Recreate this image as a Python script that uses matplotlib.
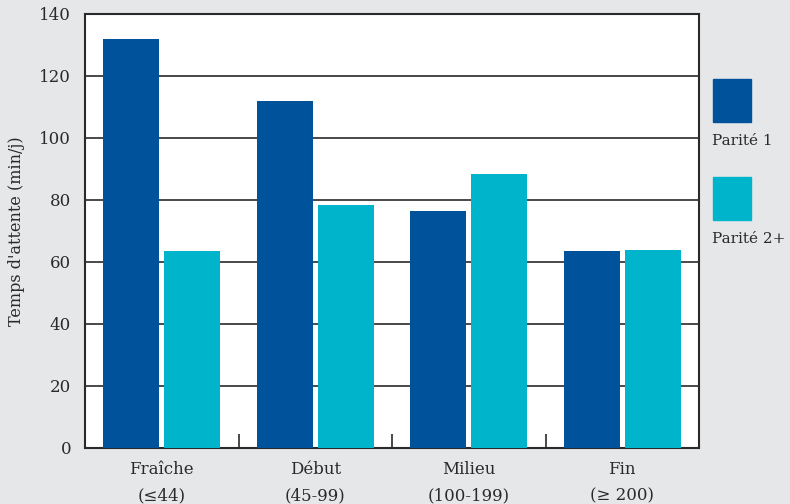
import matplotlib.pyplot as plt
import matplotlib.patches as mpatches
import numpy as np

# data
categories = ["Fraîche\n(≤44)", "Début\n(45-99)", "Milieu\n(100-199)", "Fin\n(≥ 200)"]
parite_1 = [132, 112, 76.5, 63.5]
parite_2 = [63.5, 78.5, 88.5, 64]
series_names = ["Parité 1", "Parité 2+"]
colors = ["#00529b", "#00b4cc"]

plt.rcParams['font.family'] = ['DejaVu Serif']
bg = "#e6e7e9"
ink = "#2a2a2a"

fig = plt.figure(figsize=(7.9, 5.04), dpi=100, facecolor=bg)
ax = fig.add_axes([85 / 790, 1 - 448 / 504, 614 / 790, 434 / 504])
ax.set_facecolor("white")

x = np.arange(len(categories))
w = 0.365
ax.bar(x - 0.199, parite_1, width=w, color=colors[0], zorder=3)
ax.bar(x + 0.199, parite_2, width=w, color=colors[1], zorder=3)

ax.set_xlim(-0.5, len(categories) - 0.5)
ax.set_ylim(0, 140)
ax.set_yticks(range(0, 141, 20))
ax.yaxis.grid(True, color=ink, linewidth=1.2, zorder=1)
ax.tick_params(axis='y', length=0, labelsize=12, colors=ink, pad=10)

# category labels, with small inward ticks on the boundaries
ax.set_xticks(x)
ax.set_xticklabels(categories, fontsize=12, color=ink, linespacing=1.75)
ax.tick_params(axis='x', length=0, pad=9)
ax.set_xticks(x[:-1] + 0.5, minor=True)
ax.tick_params(axis='x', which='minor', direction='in', length=10, width=1.2, color=ink)

for s in ax.spines.values():
    s.set_color(ink)
    s.set_linewidth(1.5)

ax.set_ylabel("Temps d'attente (min/j)", fontsize=11.5, color=ink, labelpad=10)

# legend: square with label under it
for i, (name, c) in enumerate(zip(series_names, colors)):
    top = 79 + i * 98
    fig.add_artist(mpatches.Rectangle((713 / 790, 1 - (top + 43) / 504), 38 / 790, 43 / 504,
                                      transform=fig.transFigure, color=c))
    fig.text(712 / 790, 1 - (top + 62) / 504, name, fontsize=11, color=ink, va='center', ha='left')

fig.savefig("out.png", dpi=100, facecolor=bg)
